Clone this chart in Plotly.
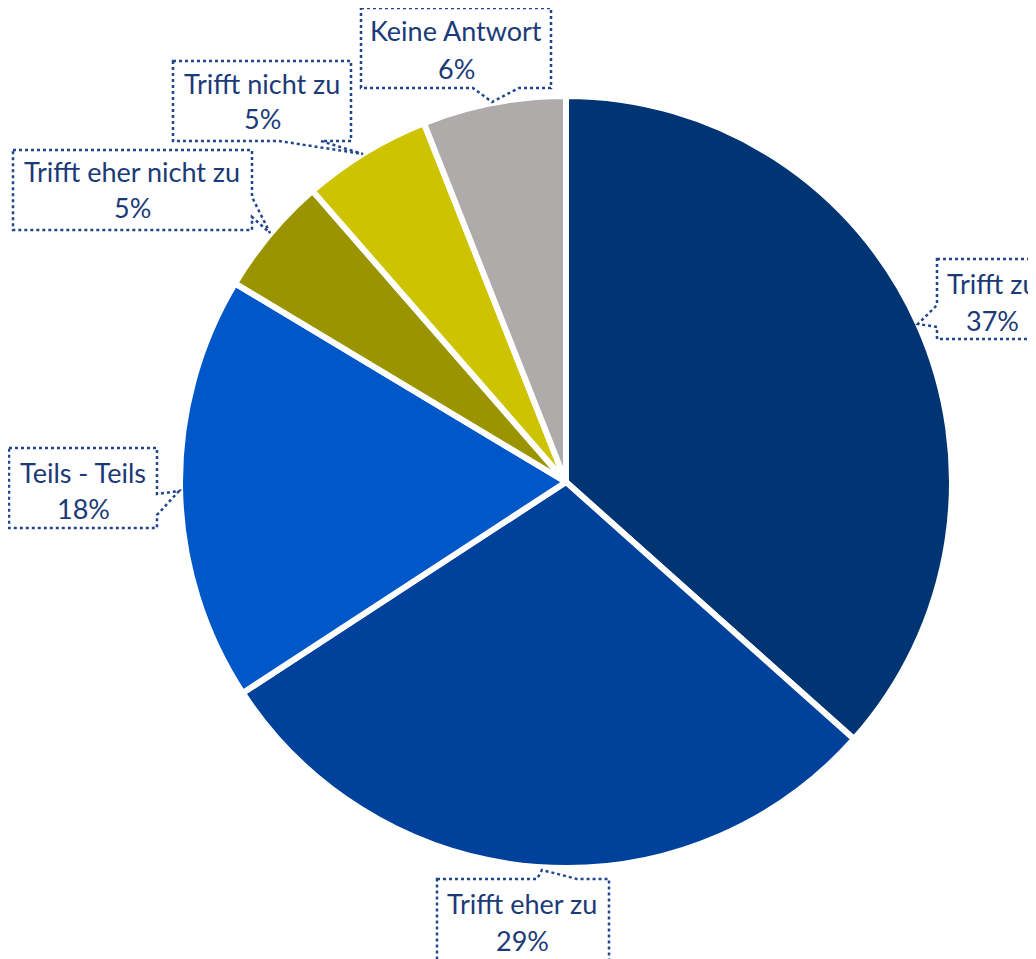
import plotly.graph_objects as go

W, H = 1036, 959
OFF = 8  # page body margin

labels = ["Trifft zu", "Trifft eher zu", "Teils - Teils", "Trifft eher nicht zu", "Trifft nicht zu", "Keine Antwort"]
values = [36.6, 29.2, 17.8, 5.0, 5.4, 6.0]
pct_labels = ["37%", "29%", "18%", "5%", "5%", "6%"]
colors = ["#003473", "#00419B", "#0057C8", "#9A9400", "#CDC300", "#AEABAA"]

TXT = "#1B3A78"
FONT = "Lato"

def px(x, y):
    return (x - OFF) / W, 1 - (y - OFF) / H

cx, cy, r = 566, 482, 386
x0, y0 = px(cx - r, cy + r)
x1, y1 = px(cx + r, cy - r)
fig = go.Figure(go.Pie(
    labels=labels, values=values, sort=False, direction="clockwise", rotation=0,
    marker=dict(colors=colors, line=dict(color="white", width=6)),
    textinfo="none", hoverinfo="label+percent",
    domain=dict(x=[x0, x1], y=[y0, y1]),
    showlegend=False,
))

# callout outlines (pixel polygons -> paper)
callouts = [
    # Keine Antwort
    [(361, 8), (551, 8), (551, 88), (519, 88), (492, 102), (473, 88), (361, 88)],
    # Trifft nicht zu
    [(173, 61), (351, 61), (351, 141), (321, 141), (363, 154), (279, 141), (173, 141)],
    # Trifft eher nicht zu
    [(13, 150), (252, 150), (252, 197), (270, 233), (252, 217), (252, 230), (13, 230)],
    # Trifft zu
    [(937, 259), (1050, 259), (1050, 339), (937, 339), (937, 327), (918, 324), (937, 305)],
    # Teils - Teils
    [(9, 448), (157, 448), (157, 494), (179, 491), (157, 515), (157, 528), (9, 528)],
    # Trifft eher zu
    [(437, 879), (537, 879), (542, 870), (577, 879), (609, 879), (609, 975), (437, 975)],
]
shapes = []
for poly in callouts:
    pts = [px(x, y) for x, y in poly]
    path = "M " + " L ".join(f"{a:.5f},{b:.5f}" for a, b in pts) + " Z"
    shapes.append(dict(type="path", path=path, xref="paper", yref="paper",
                       line=dict(color="#22468C", width=2.5, dash="dot"),
                       fillcolor="rgba(255,255,255,0)"))

text_pos = [(992, 283, 320), (522, 903, 940), (83, 472, 508), (132, 171, 208), (262, 83, 119), (456, 31, 68)]
annotations = []
for (x, ya, yb), name, pct in zip(text_pos, labels, pct_labels):
    for t, yy in ((name, ya), (pct, yb)):
        ax, ay = px(x, yy)
        annotations.append(dict(text=t, x=ax, y=ay, xref="paper", yref="paper",
                                showarrow=False, xanchor="center", yanchor="middle",
                                font=dict(family=FONT, size=27, color=TXT)))

fig.update_layout(
    width=W, height=H, margin=dict(l=0, r=0, t=0, b=0),
    paper_bgcolor="white", plot_bgcolor="white",
    shapes=shapes, annotations=annotations,
)
fig.write_html("out.html")
